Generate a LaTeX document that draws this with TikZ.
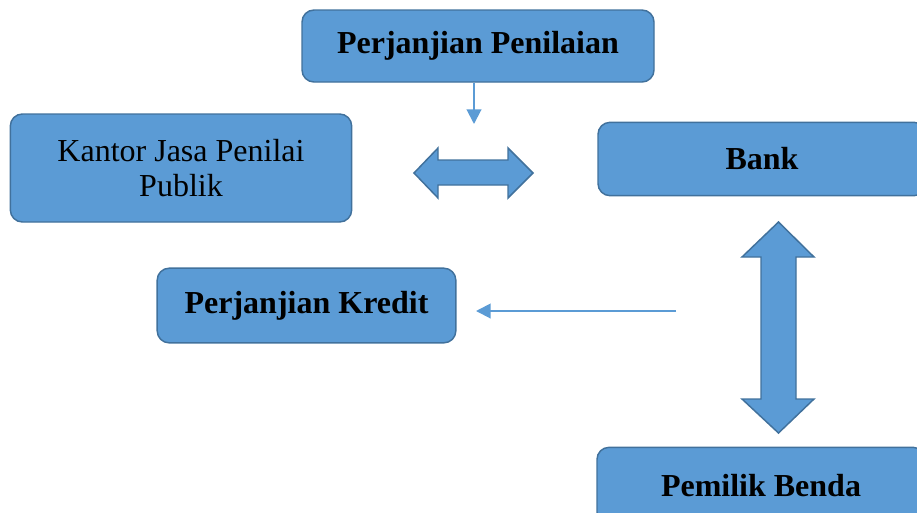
\documentclass[tikz,border=0pt]{standalone}
\usepackage{fontspec}
\setmainfont{Liberation Serif}
\usepackage{xcolor}
\usetikzlibrary{positioning,arrows.meta}
\definecolor{boxfill}{HTML}{5B9BD5}
\definecolor{boxline}{HTML}{41719C}
\pgfdeclarelayer{nodelayer}
\pgfdeclarelayer{edgelayer}
\pgfsetlayers{main,nodelayer,edgelayer}
\tikzstyle{blue box}=[fill=boxfill, draw=boxline, line width=1.1pt, rounded corners=9pt, align=center, font=\fontsize{24}{26}\selectfont]
\tikzstyle{block_arrow}=[fill=boxfill, draw=boxline, line width=1.1pt]
\tikzstyle{thin_arrow}=[draw=boxfill, line width=1.5pt, -{Triangle[length=11pt, width=11pt]}]

\begin{document}
\begin{tikzpicture}[x=0.75pt, y=-0.75pt]
        \useasboundingbox (0,0) rectangle (917,512);
        \begin{pgfonlayer}{nodelayer}
            \node[style=blue box, minimum width=264pt, minimum height=54pt] (pp) at (478,46) {\bfseries Perjanjian Penilaian};
            \node[style=blue box, minimum width=256pt, minimum height=81pt] (kjp) at (181,168) {Kantor Jasa Penilai\\Publik};
            \node[style=blue box, minimum width=246pt, minimum height=55pt] (bank) at (762,159) {\bfseries Bank};
            \node[style=blue box, minimum width=224pt, minimum height=56pt] (pk) at (306.5,305.5) {\bfseries Perjanjian Kredit};
            \node[style=blue box, minimum width=246pt, minimum height=58pt] (pb) at (761,486) {\bfseries Pemilik Benda};
        \end{pgfonlayer}
        \coordinate (ppend) at (474,124);
        \coordinate (kstart) at (676,311);
        \coordinate (kend) at (476,311);
        \begin{pgfonlayer}{edgelayer}
            \draw[style=thin_arrow] (pp.south -| ppend) -- (ppend);
            \draw[style=thin_arrow] (kstart) -- (kend);
            % block arrows
            \draw[style=block_arrow] (414,173) -- (438,148) -- (438,160) -- (508,160) -- (508,148)
                -- (533,173) -- (508,198) -- (508,185) -- (438,185) -- (438,198) -- cycle;
            \draw[style=block_arrow] (778.5,222) -- (814,257) -- (796,257) -- (796,399) -- (814,399)
                -- (778.5,433) -- (742,399) -- (761,399) -- (761,257) -- (742,257) -- cycle;
        \end{pgfonlayer}
    \end{tikzpicture}
\end{document}
